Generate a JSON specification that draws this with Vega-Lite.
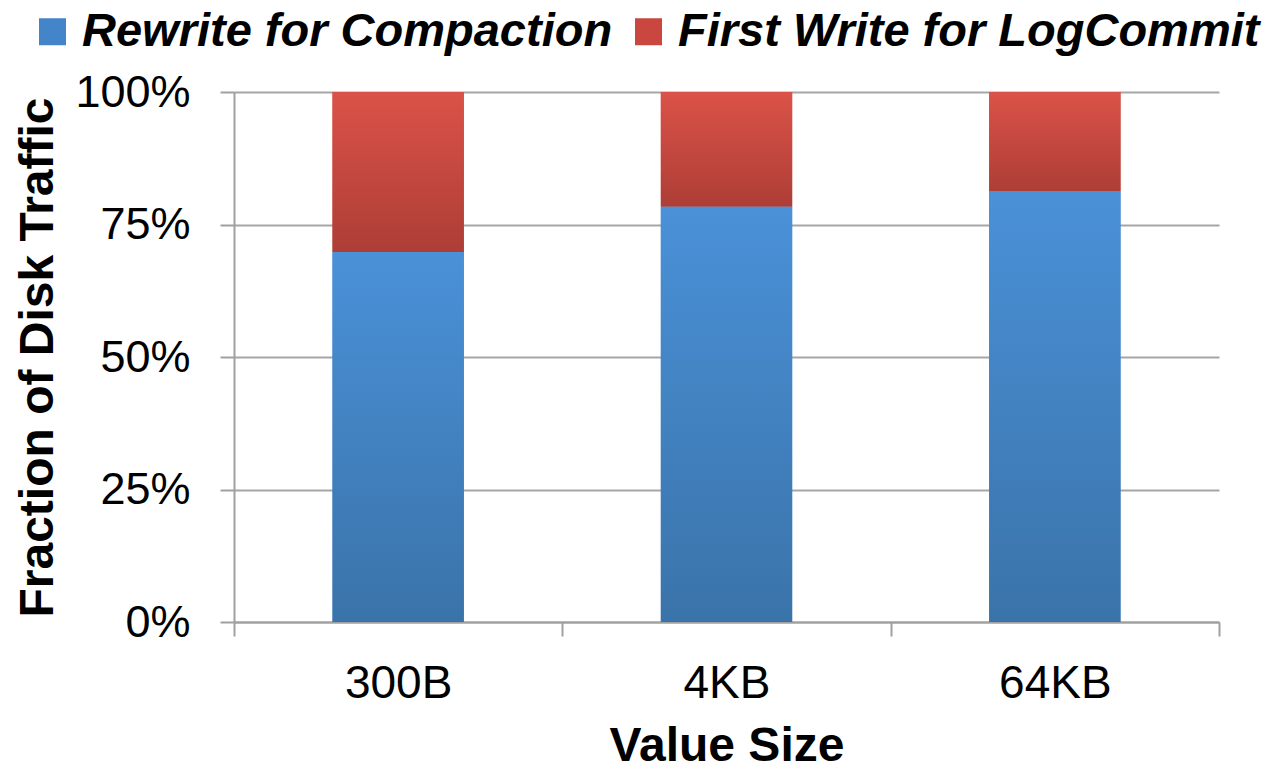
{
  "$schema": "https://vega.github.io/schema/vega-lite/v6.json",
  "autosize": {"type": "none"},
  "width": 985,
  "height": 530,
  "padding": {"left": 234, "top": 92, "right": 58, "bottom": 147},
  "background": "white",
  "config": {
    "font": "Liberation Sans",
    "view": {"stroke": null},
    "axis": {"labelColor": "#000000", "titleColor": "#000000", "labelFont": "Liberation Sans", "titleFont": "Liberation Sans"},
    "legend": {"labelFont": "Liberation Sans"}
  },
  "data": {
    "values": [
      {"size": "300B", "series": "Rewrite for Compaction", "value": 0.698},
      {"size": "300B", "series": "First Write for LogCommit", "value": 0.302},
      {"size": "4KB", "series": "Rewrite for Compaction", "value": 0.784},
      {"size": "4KB", "series": "First Write for LogCommit", "value": 0.216},
      {"size": "64KB", "series": "Rewrite for Compaction", "value": 0.813},
      {"size": "64KB", "series": "First Write for LogCommit", "value": 0.187}
    ]
  },
  "encoding": {
    "x": {
      "field": "size",
      "type": "nominal",
      "sort": ["300B", "4KB", "64KB"],
      "scale": {"paddingInner": 0, "paddingOuter": 0},
      "axis": {
        "title": "Value Size",
        "titleFontSize": 48,
        "titleFontWeight": "bold",
        "titleY": 138,
        "titleBaseline": "alphabetic",
        "labelAngle": 0,
        "labelFontSize": 46,
        "labelBaseline": "alphabetic",
        "labelPadding": 61,
        "tickBand": "extent",
        "tickSize": 14,
        "tickColor": "#A0A0A0",
        "tickWidth": 2,
        "domainColor": "#A0A0A0",
        "domainWidth": 2,
        "grid": false
      }
    },
    "y": {
      "field": "value",
      "type": "quantitative",
      "stack": "zero",
      "scale": {"domain": [0, 1], "nice": false},
      "axis": {
        "title": "Fraction of Disk Traffic",
        "titleFontSize": 48,
        "titleFontWeight": "bold",
        "titleX": -182,
        "titleY": 265,
        "titleAngle": -90,
        "titleAlign": "center",
        "titleBaseline": "alphabetic",
        "values": [0, 0.25, 0.5, 0.75, 1],
        "format": ".0%",
        "labelFontSize": 45,
        "labelPadding": 30,
        "tickSize": 14,
        "tickColor": "#A0A0A0",
        "tickWidth": 2,
        "domainColor": "#A0A0A0",
        "domainWidth": 2,
        "grid": true,
        "gridColor": "#A6A6A6",
        "gridWidth": 2
      }
    },
    "order": {"field": "series", "sort": "descending"}
  },
  "layer": [
    {
      "mark": {"type": "bar", "width": {"band": 0.4}},
      "encoding": {
        "color": {
          "field": "series",
          "type": "nominal",
          "scale": {
            "domain": ["Rewrite for Compaction", "First Write for LogCommit"],
            "range": ["#4485C9", "#C9473F"]
          },
          "legend": {
            "title": null,
            "orient": "none",
            "direction": "horizontal",
            "legendX": -205,
            "legendY": -84,
            "padding": 0,
            "symbolOffset": 0,
            "symbolType": "square",
            "symbolSize": 729,
            "symbolStrokeWidth": 0,
            "labelFontSize": 47,
            "labelFontWeight": "bold",
            "labelFontStyle": "italic",
            "labelColor": "#000000",
            "labelOffset": 6,
            "labelLimit": 1000,
            "columnPadding": 12
          }
        }
      }
    },
    {
      "mark": {"type": "bar", "width": {"band": 0.4}},
      "encoding": {
        "fill": {
          "condition": {
            "test": "datum.series === 'Rewrite for Compaction'",
            "value": {"gradient": "linear", "x1": 0, "y1": 0, "x2": 0, "y2": 1, "stops": [{"offset": 0, "color": "#4A91D8"}, {"offset": 1, "color": "#3A73A9"}]}
          },
          "value": {"gradient": "linear", "x1": 0, "y1": 0, "x2": 0, "y2": 1, "stops": [{"offset": 0, "color": "#DB5248"}, {"offset": 1, "color": "#AD3E36"}]}
        }
      }
    }
  ]
}
